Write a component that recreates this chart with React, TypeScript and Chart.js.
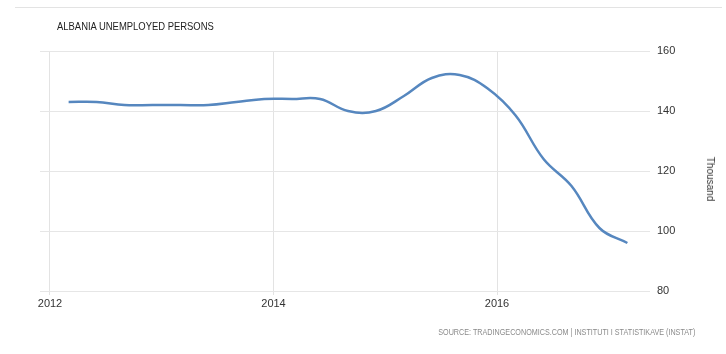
import React, { useEffect, useRef } from "react";
import { Chart, registerables } from "chart.js";

Chart.register(...registerables);

const quarters = [
  "2012Q1", "2012Q2", "2012Q3", "2012Q4",
  "2013Q1", "2013Q2", "2013Q3", "2013Q4",
  "2014Q1", "2014Q2", "2014Q3", "2014Q4",
  "2015Q1", "2015Q2", "2015Q3", "2015Q4",
  "2016Q1", "2016Q2", "2016Q3", "2016Q4",
  "2017Q1",
];
const unemployed = [
  143, 143, 142, 142,
  142, 142, 143, 144,
  144, 144, 140, 140,
  145, 151, 152, 147.5,
  138.5, 124, 115, 101,
  96,
];
const xTicks = [2012, 2014, 2016];
const yTicks = [80, 100, 120, 140, 160];

const title = "ALBANIA UNEMPLOYED PERSONS";
const unitLabel = "Thousand";
const sourceText = "SOURCE: TRADINGECONOMICS.COM | INSTITUTI I STATISTIKAVE (INSTAT)";

function quarterToYear(q: string): number {
  const y = parseInt(q.slice(0, 4), 10);
  const n = parseInt(q.slice(5), 10);
  return y + (n * 3 - 1) / 12;
}

export default function App() {
  const ref = useRef<HTMLCanvasElement | null>(null);

  useEffect(() => {
    if (!ref.current) return;
    const data = quarters.map((q, i) => ({ x: quarterToYear(q), y: unemployed[i] }));
    const chart = new Chart(ref.current, {
      type: "line",
      data: {
        datasets: [
          {
            data,
            borderColor: "#5687bf",
            borderWidth: 2.5,
            pointRadius: 0,
            tension: 0.4,
            fill: false,
          },
        ],
      },
      options: {
        responsive: false,
        animation: false,
        layout: { padding: { left: 40, top: 51, right: 0, bottom: 0 } },
        plugins: { legend: { display: false }, tooltip: { enabled: false } },
        scales: {
          x: {
            type: "linear",
            min: 2012 - 10 / 111.75,
            max: 2012 + 600 / 111.75,
            afterFit: (s: any) => {
              s.height = 63;
            },
            afterBuildTicks: (s: any) => {
              s.ticks = xTicks.map((v) => ({ value: v }));
            },
            grid: { color: "#e3e3e3", tickLength: 4, drawTicks: true },
            border: { display: false },
            ticks: {
              color: "#333",
              font: { family: "'Liberation Sans', Arial, sans-serif", size: 11 },
              padding: 2,
              maxRotation: 0,
              autoSkip: false,
              callback: (v: any) => String(v),
            },
          },
          y: {
            position: "right",
            min: 80,
            max: 160,
            afterFit: (s: any) => {
              s.width = 76;
            },
            afterBuildTicks: (s: any) => {
              s.ticks = yTicks.map((v) => ({ value: v }));
            },
            grid: { color: "#e6e6e6", drawTicks: false },
            border: { display: false },
            ticks: {
              color: "#333",
              font: { family: "'Liberation Sans', Arial, sans-serif", size: 11 },
              padding: 7,
              callback: (v: any) => String(v),
            },
          },
        },
      },
    });
    return () => chart.destroy();
  }, []);

  return (
    <div style={{ position: "fixed", left: 0, top: 0, width: 726, height: 354, background: "#fff" }}>
      <div style={{ position: "absolute", left: 15, top: 7, width: 707, height: 1, background: "#e3e3e3" }} />
      <canvas ref={ref} width={726} height={354} style={{ position: "absolute", left: 0, top: 0, width: 726, height: 354 }} />
      <div
        style={{
          position: "absolute",
          left: 57,
          top: 21,
          fontFamily: "'Liberation Sans', Arial, sans-serif",
          fontSize: 11,
          lineHeight: "11px",
          color: "#222",
          whiteSpace: "nowrap",
          transform: "scaleX(0.858)",
          transformOrigin: "left center",
        }}
      >
        {title}
      </div>
      <div
        style={{
          position: "absolute",
          left: 710,
          top: 179,
          transform: "translate(-50%, -50%) rotate(90deg)",
          fontFamily: "'Liberation Sans', Arial, sans-serif",
          fontSize: 10,
          lineHeight: "10px",
          color: "#333",
          whiteSpace: "nowrap",
        }}
      >
        {unitLabel}
      </div>
      <div
        style={{
          position: "absolute",
          right: 31,
          top: 328,
          fontFamily: "'Liberation Sans', Arial, sans-serif",
          fontSize: 9,
          lineHeight: "9px",
          color: "#8a8a8a",
          whiteSpace: "nowrap",
          transform: "scaleX(0.8)",
          transformOrigin: "right center",
        }}
      >
        {sourceText}
      </div>
    </div>
  );
}
